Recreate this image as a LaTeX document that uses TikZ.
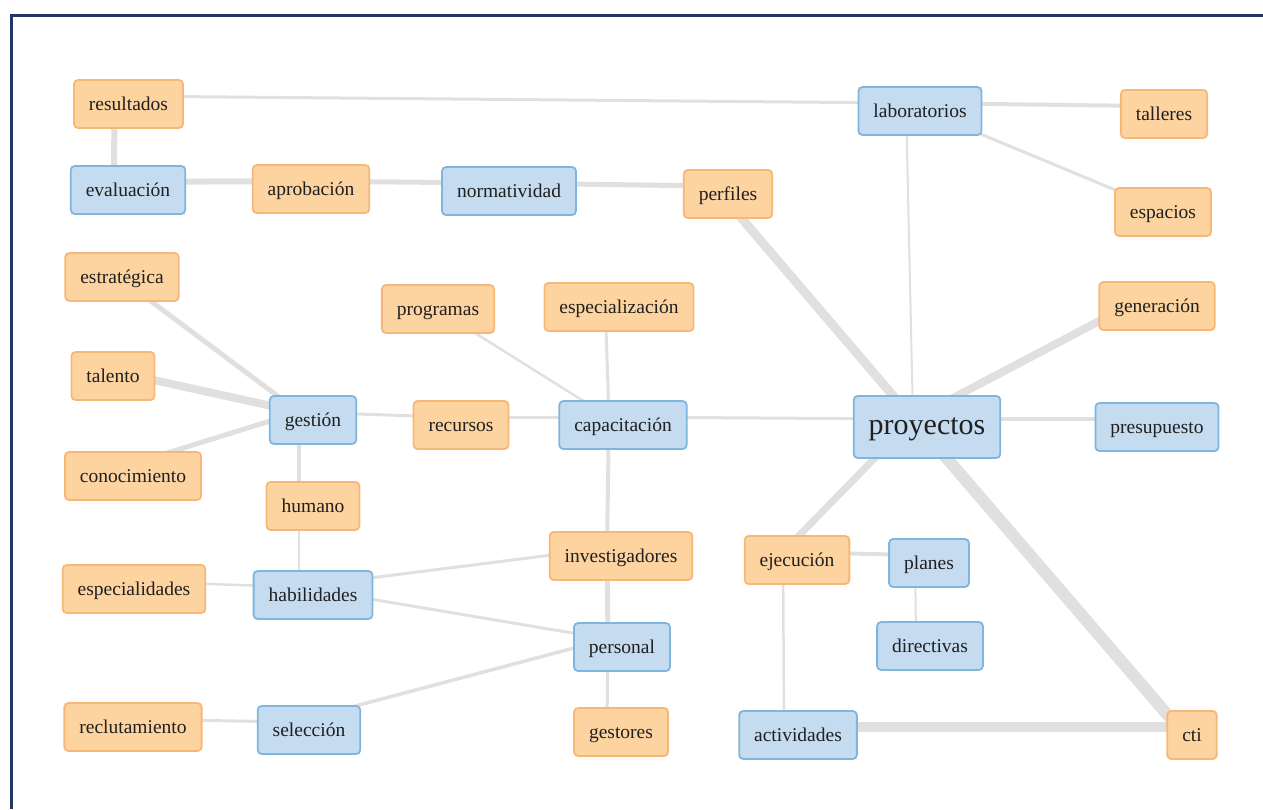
\documentclass[tikz,border=0pt]{standalone}
\usepackage{fontspec}
\setmainfont{Liberation Serif}
\usetikzlibrary{backgrounds}
\definecolor{framenavy}{RGB}{31,56,100}
\definecolor{linkgray}{RGB}{224,224,224}
\definecolor{boxorange}{RGB}{253,211,160}
\definecolor{lineorange}{RGB}{247,183,120}
\definecolor{boxblue}{RGB}{197,219,239}
\definecolor{lineblue}{RGB}{128,182,222}
\definecolor{txtgray}{RGB}{32,32,32}
\begin{document}
\begin{tikzpicture}[x=1pt,y=1pt]
\tikzstyle{box}=[rounded corners=4pt, line width=1.8pt, inner xsep=15pt, inner ysep=0pt, minimum height=48pt, text height=17pt, text depth=4.5pt, text=txtgray, font=\fontsize{19.5}{23}\selectfont]
\tikzstyle{obox}=[box, fill=boxorange, draw=lineorange]
\tikzstyle{bbox}=[box, fill=boxblue, draw=lineblue]
\tikzstyle{link}=[linkgray]
\useasboundingbox (0,0) rectangle (1263,-809);
\draw [framenavy, line width=3pt] (1263,-15) -- (11,-15) -- (11,-809);
% top rows
\node [obox] (resultados) at (128.5,-104) {resultados};
\node [bbox] (evaluacion) at (128,-190) {evaluación};
\node [obox] (aprobacion) at (311,-189) {aprobación};
\node [bbox] (normatividad) at (509,-191) {normatividad};
\node [obox] (perfiles) at (728,-194) {perfiles};
\node [bbox] (laboratorios) at (920,-111) {laboratorios};
\node [obox] (talleres) at (1164,-114) {talleres};
\node [obox] (espacios) at (1163,-212) {espacios};
% middle
\node [obox] (estrategica) at (122,-277) {estratégica};
\node [obox] (programas) at (438,-309) {programas};
\node [obox] (especializacion) at (619,-307) {especialización};
\node [obox] (generacion) at (1157,-306) {generación};
\node [obox] (talento) at (113,-376) {talento};
\node [bbox] (gestion) at (313,-420) {gestión};
\node [obox] (recursos) at (461,-425) {recursos};
\node [bbox] (capacitacion) at (623,-425) {capacitación};
\node [bbox, minimum height=62pt, text height=22pt, text depth=7pt, font=\fontsize{30}{34}\selectfont] (proyectos) at (927,-427) {proyectos};
\node [bbox] (presupuesto) at (1157,-427) {presupuesto};
\node [obox] (conocimiento) at (133,-476) {conocimiento};
\node [obox] (humano) at (313,-506) {humano};
% bottom rows
\node [obox] (investigadores) at (621,-556) {investigadores};
\node [obox] (ejecucion) at (797,-560) {ejecución};
\node [bbox] (planes) at (929,-563) {planes};
\node [bbox] (directivas) at (930,-646) {directivas};
\node [obox] (especialidades) at (134,-589) {especialidades};
\node [bbox] (habilidades) at (313,-595) {habilidades};
\node [bbox] (personal) at (622,-647) {personal};
\node [obox] (reclutamiento) at (133,-727) {reclutamiento};
\node [bbox] (seleccion) at (309,-730) {selección};
\node [obox] (gestores) at (621,-732) {gestores};
\node [bbox] (actividades) at (798,-735) {actividades};
\node [obox] (cti) at (1192,-735) {cti};
% links, behind the boxes
\begin{scope}[on background layer]
\draw [link, line width=3pt] ([shift={(-14,8)}]resultados.center) -- ([shift={(-14,8)}]laboratorios.center);
\draw [link, line width=6pt] ([shift={(-14,8)}]resultados.center) -- ([shift={(-14,8)}]evaluacion.center);
\draw [link, line width=6pt] ([shift={(-14,8)}]evaluacion.center) -- ([shift={(-14,8)}]aprobacion.center);
\draw [link, line width=5pt] ([shift={(-14,8)}]aprobacion.center) -- ([shift={(-14,8)}]normatividad.center);
\draw [link, line width=5pt] ([shift={(-14,8)}]normatividad.center) -- ([shift={(-14,8)}]perfiles.center);
\draw [link, line width=9pt] ([shift={(-14,8)}]perfiles.center) -- ([shift={(-14,8)}]proyectos.center);
\draw [link, line width=4pt] ([shift={(-14,8)}]laboratorios.center) -- ([shift={(-14,8)}]talleres.center);
\draw [link, line width=3pt] ([shift={(-14,8)}]laboratorios.center) -- ([shift={(-14,8)}]espacios.center);
\draw [link, line width=2pt] ([shift={(-14,8)}]laboratorios.center) -- ([shift={(-14,8)}]proyectos.center);
\draw [link, line width=8pt] ([shift={(-14,8)}]proyectos.center) -- ([shift={(-14,8)}]generacion.center);
\draw [link, line width=3.5pt] ([shift={(-14,8)}]proyectos.center) -- ([shift={(-14,8)}]presupuesto.center);
\draw [link, line width=3pt] ([shift={(-14,8)}]capacitacion.center) -- ([shift={(-14,8)}]proyectos.center);
\draw [link, line width=7pt] ([shift={(-14,8)}]proyectos.center) -- ([shift={(-14,8)}]ejecucion.center);
\draw [link, line width=12pt] ([shift={(-14,8)}]proyectos.center) -- ([shift={(-14,8)}]cti.center);
\draw [link, line width=10pt] ([shift={(-14,8)}]actividades.center) -- ([shift={(-14,8)}]cti.center);
\draw [link, line width=4pt] ([shift={(-14,8)}]ejecucion.center) -- ([shift={(-14,8)}]planes.center);
\draw [link, line width=2pt] ([shift={(-14,8)}]planes.center) -- ([shift={(-14,8)}]directivas.center);
\draw [link, line width=2.5pt] ([shift={(-14,8)}]ejecucion.center) -- ([shift={(-14,8)}]actividades.center);
\draw [link, line width=2.5pt] ([shift={(-14,8)}]capacitacion.center) -- ([shift={(-14,8)}]programas.center);
\draw [link, line width=3pt] ([shift={(-14,8)}]capacitacion.center) -- ([shift={(-14,8)}]especializacion.center);
\draw [link, line width=3pt] ([shift={(-14,8)}]recursos.center) -- ([shift={(-14,8)}]capacitacion.center);
\draw [link, line width=4pt] ([shift={(-14,8)}]capacitacion.center) -- ([shift={(-14,8)}]investigadores.center);
\draw [link, line width=5pt] ([shift={(-14,8)}]investigadores.center) -- ([shift={(-14,8)}]personal.center);
\draw [link, line width=3pt] ([shift={(-14,8)}]personal.center) -- ([shift={(-14,8)}]gestores.center);
\draw [link, line width=3pt] ([shift={(-14,8)}]habilidades.center) -- ([shift={(-14,8)}]personal.center);
\draw [link, line width=3.5pt] ([shift={(-14,8)}]seleccion.center) -- ([shift={(-14,8)}]personal.center);
\draw [link, line width=3pt] ([shift={(-14,8)}]habilidades.center) -- ([shift={(-14,8)}]investigadores.center);
\draw [link, line width=2.5pt] ([shift={(-14,8)}]especialidades.center) -- ([shift={(-14,8)}]habilidades.center);
\draw [link, line width=2pt] ([shift={(-14,8)}]humano.center) -- ([shift={(-14,8)}]habilidades.center);
\draw [link, line width=4pt] ([shift={(-14,8)}]gestion.center) -- ([shift={(-14,8)}]humano.center);
\draw [link, line width=3pt] ([shift={(-14,8)}]gestion.center) -- ([shift={(-14,8)}]recursos.center);
\draw [link, line width=5pt] ([shift={(-14,8)}]estrategica.center) -- ([shift={(-14,8)}]gestion.center);
\draw [link, line width=8pt] ([shift={(-14,8)}]talento.center) -- ([shift={(-14,8)}]gestion.center);
\draw [link, line width=5pt] ([shift={(-14,8)}]conocimiento.center) -- ([shift={(-14,8)}]gestion.center);
\draw [link, line width=3pt] ([shift={(-14,8)}]reclutamiento.center) -- ([shift={(-14,8)}]seleccion.center);
\end{scope}
\end{tikzpicture}
\end{document}
